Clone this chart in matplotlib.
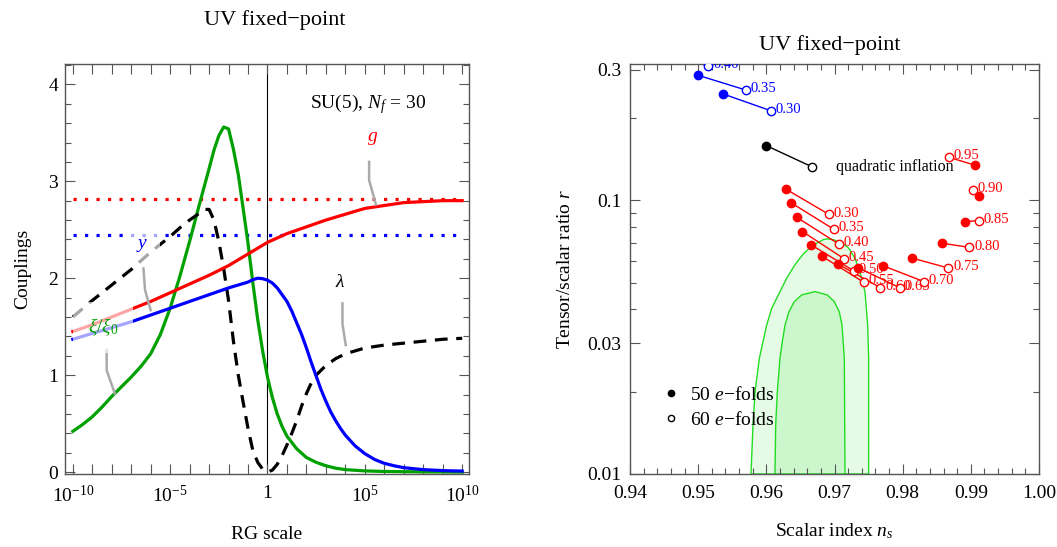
import numpy as np
import matplotlib
matplotlib.use('Agg')
from matplotlib import pyplot as plt
from matplotlib.lines import Line2D
from matplotlib.ticker import FixedLocator, NullLocator, NullFormatter, FixedFormatter

plt.rcParams['font.family'] = ['Liberation Serif', 'DejaVu Serif']
plt.rcParams['mathtext.fontset'] = 'custom'
plt.rcParams['mathtext.rm'] = 'Liberation Serif'
plt.rcParams['mathtext.it'] = 'Liberation Serif:italic'

# left panel: couplings vs log10(RG scale)
t_g = [-10, -9, -8, -7, -6, -5, -4, -3, -2, -1, 0, 1, 2, 3, 4, 5, 6, 7, 8, 9, 10]
g = [1.45, 1.52, 1.60, 1.68, 1.76, 1.85, 1.94, 2.03, 2.13, 2.25, 2.37, 2.46, 2.53, 2.60, 2.66, 2.72, 2.75, 2.78, 2.79, 2.80, 2.80]

t_y = [-10, -9, -8, -7, -6, -5, -4, -3, -2, -1, -0.75, -0.5, -0.25, 0, 0.25, 0.5, 0.75, 1, 1.25, 1.5, 1.75, 2,
       2.25, 2.5, 2.75, 3, 3.25, 3.5, 3.75, 4, 4.5, 5, 5.5, 6, 6.5, 7, 8, 9, 10]
y = [1.37, 1.43, 1.49, 1.55, 1.62, 1.69, 1.76, 1.83, 1.90, 1.96, 1.985, 2.0, 1.995, 1.98, 1.95, 1.90, 1.83, 1.76, 1.66, 1.54, 1.42, 1.28,
     1.13, 0.99, 0.85, 0.73, 0.62, 0.53, 0.45, 0.38, 0.27, 0.19, 0.13, 0.09, 0.065, 0.045, 0.025, 0.015, 0.01]

t_xi = [-10, -9.5, -9, -8.5, -8, -7.5, -7, -6.5, -6, -5.5, -5, -4.5, -4, -3.5, -3, -2.75, -2.5, -2.25, -2, -1.75, -1.5, -1.25,
        -1, -0.75, -0.5, -0.25, 0, 0.25, 0.5, 0.75, 1, 1.5, 2, 2.5, 3, 3.5, 4, 5, 6, 8, 10]
xi = [0.42, 0.49, 0.57, 0.67, 0.78, 0.88, 0.98, 1.09, 1.22, 1.42, 1.69, 2.02, 2.38, 2.76, 3.13, 3.32, 3.47, 3.56, 3.54, 3.33, 3.07, 2.72,
      2.36, 1.95, 1.57, 1.25, 0.98, 0.77, 0.60, 0.47, 0.37, 0.24, 0.15, 0.10, 0.065, 0.04, 0.025, 0.012, 0.006, 0.002, 0.0]

t_lam = [-10, -9, -8, -7, -6, -5, -4.5, -4, -3.5, -3.25, -3, -2.75, -2.5, -2.25, -2, -1.75, -1.5, -1.25, -1, -0.75, -0.5, -0.25,
         0, 0.25, 0.5, 0.75, 1, 1.25, 1.5, 1.75, 2, 2.25, 2.5, 3, 3.5, 4, 5, 6, 7, 8, 9, 10]
lam = [1.60, 1.77, 1.93, 2.09, 2.27, 2.43, 2.52, 2.60, 2.67, 2.71, 2.71, 2.60, 2.38, 2.10, 1.77, 1.35, 1.0, 0.72, 0.45, 0.22, 0.10, 0.03,
       0.0, 0.02, 0.08, 0.17, 0.28, 0.40, 0.53, 0.68, 0.81, 0.92, 1.0, 1.10, 1.17, 1.22, 1.28, 1.31, 1.33, 1.35, 1.37, 1.38]

g_star = 2.82
y_star = 2.45

# right panel: ns, r for 50 and 60 e-folds
red_lab = ['0.30', '0.35', '0.40', '0.45', '0.50', '0.55', '0.60', '0.65', '0.70', '0.75', '0.80', '0.85', '0.90', '0.95']
red_ns50 = [0.9629, 0.9636, 0.9645, 0.9653, 0.9666, 0.9682, 0.9705, 0.9735, 0.9771, 0.9814, 0.9857, 0.9892, 0.9912, 0.9906]
red_r50 = [0.1098, 0.0981, 0.0866, 0.0769, 0.0687, 0.0624, 0.0585, 0.0567, 0.0577, 0.0615, 0.0698, 0.0835, 0.1038, 0.1345]
red_ns60 = [0.9692, 0.9699, 0.9706, 0.9714, 0.9728, 0.9743, 0.9767, 0.9796, 0.9831, 0.9867, 0.9898, 0.9912, 0.9903, 0.9868]
red_r60 = [0.0888, 0.0784, 0.0693, 0.0612, 0.0553, 0.0502, 0.0480, 0.0479, 0.0505, 0.0566, 0.0673, 0.0844, 0.1090, 0.1436]

blue_lab = ['0.30', '0.35', '0.40']
blue_ns50 = [0.9537, 0.9500, 0.9445]
blue_r50 = [0.2446, 0.2864, 0.345]
blue_ns60 = [0.9607, 0.9570, 0.9515]
blue_r60 = [0.2124, 0.253, 0.310]

quad_ns = [0.9600, 0.9667]
quad_r = [0.1585, 0.1326]

# Planck-like contours
outer_ns = [0.95775, 0.95804, 0.95834, 0.95897, 0.96005, 0.96079, 0.96200, 0.96299, 0.96420, 0.96533, 0.96640, 0.96748,
            0.96836, 0.96894, 0.96982, 0.97105, 0.97202, 0.97300, 0.97384, 0.97447, 0.97487, 0.97501, 0.97501]
outer_r = [0.0100, 0.01502, 0.01990, 0.02647, 0.03500, 0.04032, 0.04640, 0.05198, 0.05818, 0.06332, 0.06718, 0.06990,
           0.07188, 0.07231, 0.07188, 0.06990, 0.06718, 0.06155, 0.05346, 0.04640, 0.03500, 0.02647, 0.0100]
inner_ns = [0.96127, 0.96137, 0.96161, 0.96200, 0.96234, 0.96274, 0.96332, 0.96410, 0.96519, 0.96714, 0.96894, 0.96997,
            0.97070, 0.97110, 0.97144, 0.97154]
inner_r = [0.0100, 0.01502, 0.01990, 0.02647, 0.03039, 0.03500, 0.03917, 0.04264, 0.04512, 0.04640, 0.04512, 0.04264,
           0.03917, 0.03500, 0.02647, 0.0100]

fig = plt.figure(figsize=(10.57, 5.47), dpi=100)
ax1 = fig.add_axes([65/1057, 73/547, 404/1057, 410/547])
ax2 = fig.add_axes([630/1057, 73/547, 409/1057, 410/547])

frame = '#555555'
for ax in (ax1, ax2):
    for s in ax.spines.values():
        s.set_color(frame)
        s.set_linewidth(1.0)
    ax.tick_params(which='both', direction='in', top=True, right=True, color=frame, width=0.8, labelsize=14, pad=8)
    ax.tick_params(which='major', length=7)
    ax.tick_params(which='minor', length=4)

lw = 2.3
green = '#00a000'
X = lambda t: 10.0 ** np.asarray(t, dtype=float)

ax1.axvline(1, color='k', lw=0.8, zorder=1)
ax1.plot(X([-10, 10]), [g_star, g_star], color='red', lw=2.3, ls=(0, (1, 2.6)))
ax1.plot(X([-10, 10]), [y_star, y_star], color='blue', lw=2.3, ls=(0, (1, 2.6)))
ax1.plot(X(t_xi), xi, color=green, lw=lw)
ax1.plot(X(t_lam), lam, color='k', lw=lw, ls=(0, (4, 2.7)))
ax1.plot(X(t_y), y, color='blue', lw=lw)
ax1.plot(X(t_g), g, color='red', lw=lw)

ax1.set_xscale('log')
ax1.set_xlim(10**-10.4, 10**10.35)
ax1.set_ylim(-0.02, 4.21)
decades = list(range(-10, 11))
ax1.xaxis.set_major_locator(FixedLocator([10.0**k for k in decades]))
xlabels = {-10: r'$10^{-10}$', -5: r'$10^{-5}$', 0: '1', 5: r'$10^{5}$', 10: r'$10^{10}$'}
ax1.xaxis.set_major_formatter(FixedFormatter([xlabels.get(k, '') for k in decades]))
ax1.xaxis.set_minor_locator(NullLocator())
ax1.set_yticks([0, 1, 2, 3, 4])
ax1.set_yticklabels(['0', '1', '2', '3', '4'])
ax1.yaxis.set_minor_locator(FixedLocator(np.arange(0, 4.21, 0.2)))
ax1.tick_params(axis='y', pad=5)

gray = '#aaaaaa'
ax1.plot(X([5.22, 5.22, 5.57]), [3.20, 3.01, 2.76], color=gray, lw=1.8)
ax1.plot(X([-6.37, -6.29, -6.0]), [2.10, 1.88, 1.67], color=gray, lw=1.8)
ax1.plot(X([3.85, 3.85, 4.02]), [1.74, 1.53, 1.31], color=gray, lw=1.8)
ax1.plot(X([-8.26, -8.26, -7.84]), [1.26, 1.05, 0.81], color=gray, lw=1.8)

ax1.text(X(5.41), 3.44, r'$g$', color='red', fontsize=14, ha='center', va='center')
ax1.text(X(-6.46), 2.34, r'$y$', color='blue', fontsize=14, ha='center', va='center',
         bbox=dict(boxstyle='square,pad=0.6', fc='white', ec='none', alpha=0.65), zorder=5)
ax1.text(X(3.76), 1.96, r'$\lambda$', color='k', fontsize=14, ha='center', va='center')
ax1.text(X(-8.45), 1.495, r'$\xi/\xi_0$', color=green, fontsize=14, ha='center', va='center',
         bbox=dict(boxstyle='square,pad=0.75', fc='white', ec='none', alpha=0.65), zorder=5)
ax1.text(X(5.18), 3.80, r'SU(5), $N_f$ = 30', color='k', fontsize=14, ha='center', va='center')

ax1.set_xlabel('RG scale', fontsize=14, labelpad=14)
ax1.set_ylabel('Couplings', fontsize=14, labelpad=12)
fig.text(275/1057, 1 - 20/547, 'UV fixed\u2212point', fontsize=16, ha='center', va='center')

# right panel
ax2.fill(outer_ns, outer_r, fc='#e6fbe6', ec='#22dd22', lw=1.0, zorder=1)
ax2.fill(inner_ns, inner_r, fc='#ccf6cc', ec='#22dd22', lw=1.0, zorder=1)

ms = 6
for ns50, r50, ns60, r60, labs, c in [(red_ns50, red_r50, red_ns60, red_r60, red_lab, 'red'),
                                       (blue_ns50, blue_r50, blue_ns60, blue_r60, blue_lab, 'blue')]:
    for i in range(len(labs)):
        ax2.plot([ns50[i], ns60[i]], [r50[i], r60[i]], color=c, lw=1.0, zorder=2)
        ax2.plot(ns50[i], r50[i], 'o', color=c, ms=ms, zorder=3)
        ax2.plot(ns60[i], r60[i], 'o', mfc='white', mec=c, mew=1.0, ms=ms, zorder=3)
        ax2.annotate(labs[i], (ns60[i], r60[i]), xytext=(3.5, 1), textcoords='offset points',
                     color=c, fontsize=10.5, ha='left', va='center', annotation_clip=False, clip_on=True)

ax2.plot(quad_ns, quad_r, color='k', lw=1.0, zorder=2)
ax2.plot(quad_ns[0], quad_r[0], 'o', color='k', ms=ms, zorder=3)
ax2.plot(quad_ns[1], quad_r[1], 'o', mfc='white', mec='k', mew=1.0, ms=ms, zorder=3)
ax2.annotate('quadratic inflation', (quad_ns[1], quad_r[1]), xytext=(17, 0), textcoords='offset points',
             fontsize=11.5, ha='left', va='center')

ax2.set_yscale('log')
ax2.set_xlim(0.94, 1.00)
ax2.set_ylim(0.01, 0.315)
ax2.set_xticks(np.arange(0.94, 1.0001, 0.01))
ax2.set_xticklabels(['0.94', '0.95', '0.96', '0.97', '0.98', '0.99', '1.00'])
ax2.xaxis.set_minor_locator(FixedLocator(np.arange(0.94, 1.0001, 0.002)))
ax2.set_yticks([0.01, 0.03, 0.1, 0.3])
ax2.set_yticklabels(['0.01', '0.03', '0.1', '0.3'])
ax2.yaxis.set_minor_locator(FixedLocator([0.02, 0.04, 0.05, 0.06, 0.07, 0.08, 0.09, 0.2]))
ax2.yaxis.set_minor_formatter(NullFormatter())
ax2.tick_params(axis='y', pad=6)

h = [Line2D([], [], marker='o', color='k', ls='none', ms=4.5),
     Line2D([], [], marker='o', mfc='white', mec='k', mew=1.0, ls='none', ms=4.5)]
ax2.legend(h, [r'50 $e$$-$folds', r'60 $e$$-$folds'], loc='center left', bbox_to_anchor=(0.076, 0.162),
           frameon=False, fontsize=14, handlelength=1.0, handletextpad=0.5, labelspacing=0.35,
           borderpad=0, borderaxespad=0)

ax2.set_xlabel(r'Scalar index $n_s$', fontsize=14, labelpad=14)
ax2.set_ylabel(r'Tensor/scalar ratio $r$', fontsize=14, labelpad=10)
fig.text(830/1057, 1 - 45/547, 'UV fixed\u2212point', fontsize=16, ha='center', va='center')

plt.savefig('out.png', dpi=100)
